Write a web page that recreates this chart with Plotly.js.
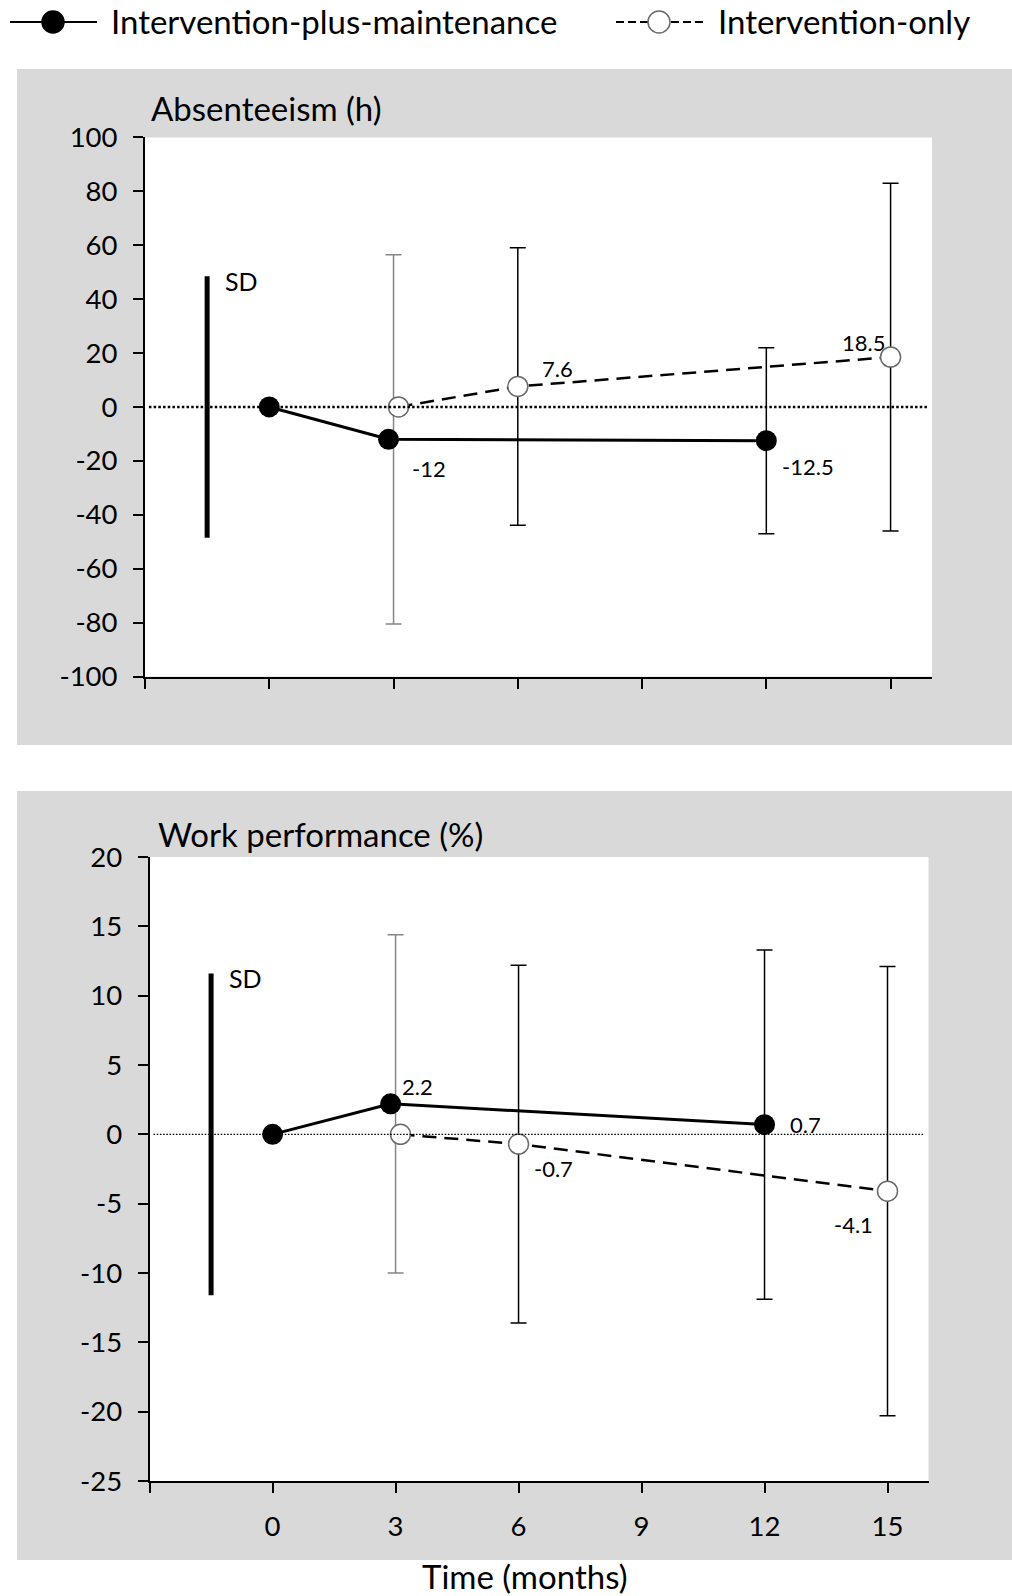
<!DOCTYPE html>
<html>
<head>
<meta charset="utf-8">
<script src="https://cdn.plot.ly/plotly-3.0.1.min.js"></script>
<style>
  html, body { margin: 0; padding: 0; background: #ffffff; }
  #chart { width: 1012px; height: 1596px; }
</style>
</head>
<body>
<div id="chart"></div>
<script>
// ---- Absenteeism (hours): change from baseline, mean and SD ----
const absPlusMonths = [0, 3, 12];
const absPlusMean   = [0, -12, -12.5];
const absPlusSD     = [null, 68.5, 34.5];
const absOnlyMonths = [3, 6, 15];
const absOnlyMean   = [0, 7.6, 18.5];
const absOnlySD     = [null, 51.5, 64.5];
const absRefSD      = 48.5;

// ---- Work performance (%): change from baseline, mean and SD ----
const perfPlusMonths = [0, 3, 12];
const perfPlusMean   = [0, 2.2, 0.7];
const perfPlusSD     = [null, 12.2, 12.6];
const perfOnlyMonths = [3, 6, 15];
const perfOnlyMean   = [0, -0.7, -4.1];
const perfOnlySD     = [null, 12.9, 16.2];
const perfRefSD      = 11.6;

// ---- Axis ticks ----
const absTicks      = [-100, -80, -60, -40, -20, 0, 20, 40, 60, 80, 100];
const absTickText   = ['-100', '-80', '-60', '-40', '-20', '0', '20', '40', '60', '80', '100'];
const perfTicks     = [-25, -20, -15, -10, -5, 0, 5, 10, 15, 20];
const perfTickText  = ['-25', '-20', '-15', '-10', '-5', '0', '5', '10', '15', '20'];
const timeTicks     = [-3, 0, 3, 6, 9, 12, 15];
const timeTickText  = ['', '0', '3', '6', '9', '12', '15'];

const seriesNames = ['Intervention-plus-maintenance', 'Intervention-only'];
const panelTitles = ['Absenteeism (h)', 'Work performance (%)'];
const xTitle = 'Time (months)';
const refLabel = 'SD';

// ---- Styling ----
const W = 1012, H = 1596;
const FONT = 'Lato, "Liberation Sans", Arial, sans-serif';
const GRAY_BG = '#d9d9d9';
const OPEN_EDGE = '#6a6a6a';
const SOFT_ERR = '#858585';
const DODGE = 0.12;          // side-by-side shift where both groups share a month
const SD_X = -1.5;           // position of the reference SD bar
const BIG = 33, TICK = 27.5, LABEL = 22;

const px = v => v / W;
const py = v => 1 - v / H;

// label offsets (px) for each plotted value, per panel/series
const labelShift = {
  absPlus:  [null, [40, -29], [42, -26]],
  absOnly:  [null, [40, 18], [-27, 15]],
  perfPlus: [null, [27, 17], [41, 0]],
  perfOnly: [null, [35, -24], [-34, -33]]
};

function dodged(months, other, dir) {
  return months.map(m => other.includes(m) ? m + dir * DODGE : m);
}

const traces = [];
const annotations = [];

function addPanel(xa, ya, plus, only, refSD, keyPlus, keyOnly) {
  // reference SD bar
  traces.push({
    x: [SD_X, SD_X], y: [-refSD, refSD], xaxis: xa, yaxis: ya,
    mode: 'lines', line: { color: '#000', width: 5 },
    hoverinfo: 'skip', showlegend: false
  });
  annotations.push({
    x: SD_X, y: refSD, xref: xa, yref: ya, text: refLabel,
    showarrow: false, xanchor: 'left', yanchor: 'middle',
    xshift: 16, yshift: -5, font: { family: FONT, size: 25, color: '#000' }
  });

  // error bars, one small trace per point
  [plus, only].forEach(s => {
    s.months.forEach((m, i) => {
      if (s.sd[i] == null) return;
      traces.push({
        x: [m], y: [s.mean[i]], xaxis: xa, yaxis: ya,
        mode: 'markers', marker: { size: 1, opacity: 0 },
        error_y: { type: 'data', array: [s.sd[i]], visible: true,
                   color: m === 3 ? SOFT_ERR : '#000', thickness: 1.5, width: 8 },
        hoverinfo: 'skip', showlegend: false
      });
    });
  });

  const plusX = dodged(plus.months, only.months, -1);
  const onlyX = dodged(only.months, plus.months, +1);

  traces.push({
    x: onlyX, y: only.mean, xaxis: xa, yaxis: ya, name: seriesNames[1],
    mode: 'lines+markers',
    line: { color: '#000', width: 2.5, dash: '14px,8px' },
    marker: { size: 20, color: '#ffffff', line: { color: OPEN_EDGE, width: 1.5 } },
    showlegend: false
  });
  traces.push({
    x: plusX, y: plus.mean, xaxis: xa, yaxis: ya, name: seriesNames[0],
    mode: 'lines+markers',
    line: { color: '#000', width: 3 },
    marker: { size: 21, color: '#000' },
    showlegend: false
  });

  // value labels
  [[plus, plusX, labelShift[keyPlus]], [only, onlyX, labelShift[keyOnly]]].forEach(([s, xs, shifts]) => {
    s.mean.forEach((v, i) => {
      if (!shifts[i]) return;
      annotations.push({
        x: xs[i], y: v, xref: xa, yref: ya, text: String(v),
        showarrow: false, xanchor: 'center', yanchor: 'middle',
        xshift: shifts[i][0], yshift: shifts[i][1],
        font: { family: FONT, size: LABEL, color: '#000' }
      });
    });
  });
}

addPanel('x', 'y',
  { months: absPlusMonths, mean: absPlusMean, sd: absPlusSD },
  { months: absOnlyMonths, mean: absOnlyMean, sd: absOnlySD },
  absRefSD, 'absPlus', 'absOnly');
addPanel('x2', 'y2',
  { months: perfPlusMonths, mean: perfPlusMean, sd: perfPlusSD },
  { months: perfOnlyMonths, mean: perfOnlyMean, sd: perfOnlySD },
  perfRefSD, 'perfPlus', 'perfOnly');

// panel titles, x title, legend text
function paperText(x, y, text, anchor) {
  return { x: px(x), y: py(y), xref: 'paper', yref: 'paper', text: text,
           showarrow: false, xanchor: anchor, yanchor: 'middle',
           font: { family: FONT, size: BIG, color: '#000' } };
}
annotations.push(
  paperText(149, 108, panelTitles[0], 'left'),
  paperText(156, 834, panelTitles[1], 'left'),
  paperText(525, 1576, xTitle, 'center'),
  paperText(109, 21, seriesNames[0], 'left'),
  paperText(716, 21, seriesNames[1], 'left')
);

function paperRect(x0, y0, x1, y1, fill) {
  return { type: 'rect', xref: 'paper', yref: 'paper', layer: 'below',
           x0: px(x0), x1: px(x1), y0: py(y1), y1: py(y0),
           fillcolor: fill, line: { width: 0 } };
}
function domainRect(xa, ya) {
  return { type: 'rect', xref: xa + ' domain', yref: ya + ' domain', layer: 'below',
           x0: 0, x1: 1, y0: 0, y1: 1, fillcolor: '#ffffff', line: { width: 0 } };
}
function zeroLine(xa, ya, w, dash) {
  return { type: 'line', xref: xa + ' domain', yref: ya, layer: 'above',
           x0: 0.005, x1: 0.995, y0: 0, y1: 0,
           line: { color: '#000', width: w, dash: dash } };
}
function keyLine(x0, x1, y, dash) {
  return { type: 'line', xref: 'paper', yref: 'paper', layer: 'above',
           x0: px(x0), x1: px(x1), y0: py(y), y1: py(y),
           line: { color: '#000', width: 2, dash: dash || 'solid' } };
}
function keyCircle(cx, cy, d, fill, edge) {
  return { type: 'circle', xref: 'paper', yref: 'paper', layer: 'above',
           x0: px(cx - d / 2), x1: px(cx + d / 2), y0: py(cy + d / 2), y1: py(cy - d / 2),
           fillcolor: fill, line: { color: edge, width: 1.5 } };
}

const KEY_Y = 22;
const shapes = [
  paperRect(17, 69, 1012, 745, GRAY_BG),
  paperRect(17, 791, 1012, 1560, GRAY_BG),
  domainRect('x', 'y'),
  domainRect('x2', 'y2'),
  zeroLine('x', 'y', 2.5, '2.5px,2.2px'),
  zeroLine('x2', 'y2', 1.3, '1.6px,1.6px'),
  // legend keys
  keyLine(10, 97, KEY_Y),
  keyCircle(53, KEY_Y, 22, '#000', '#000'),
  keyLine(616, 648, KEY_Y, '8px,4px'),
  keyLine(671, 703, KEY_Y, '8px,4px'),
  keyCircle(659, KEY_Y, 22, '#ffffff', OPEN_EDGE)
];

const axisBase = {
  showline: true, linecolor: '#000', linewidth: 2,
  ticks: 'outside', ticklen: 10, tickwidth: 2, tickcolor: '#000',
  showgrid: false, zeroline: false, fixedrange: true,
  tickfont: { family: FONT, size: TICK, color: '#000' }
};

const layout = {
  width: W, height: H,
  margin: { l: 0, r: 0, t: 0, b: 0 },
  paper_bgcolor: '#ffffff',
  plot_bgcolor: 'rgba(0,0,0,0)',
  showlegend: false,
  font: { family: FONT, color: '#000' },
  xaxis: Object.assign({}, axisBase, {
    domain: [px(145), px(932)], range: [-3, 16], anchor: 'y',
    tickmode: 'array', tickvals: timeTicks, showticklabels: false
  }),
  yaxis: Object.assign({}, axisBase, {
    domain: [py(676.5), py(137.4)], range: [-100, 100], anchor: 'x',
    tickmode: 'array', tickvals: absTicks, ticktext: absTickText,
    ticklabelstandoff: 10
  }),
  xaxis2: Object.assign({}, axisBase, {
    domain: [px(149.6), px(928.5)], range: [-3, 16], anchor: 'y2',
    tickmode: 'array', tickvals: timeTicks, ticktext: timeTickText,
    ticklabelstandoff: 10
  }),
  yaxis2: Object.assign({}, axisBase, {
    domain: [py(1481), py(857)], range: [-25, 20], anchor: 'x2',
    tickmode: 'array', tickvals: perfTicks, ticktext: perfTickText,
    ticklabelstandoff: 10
  }),
  shapes: shapes,
  annotations: annotations
};

Plotly.newPlot('chart', traces, layout, { displayModeBar: false, staticPlot: true });
</script>
</body>
</html>
